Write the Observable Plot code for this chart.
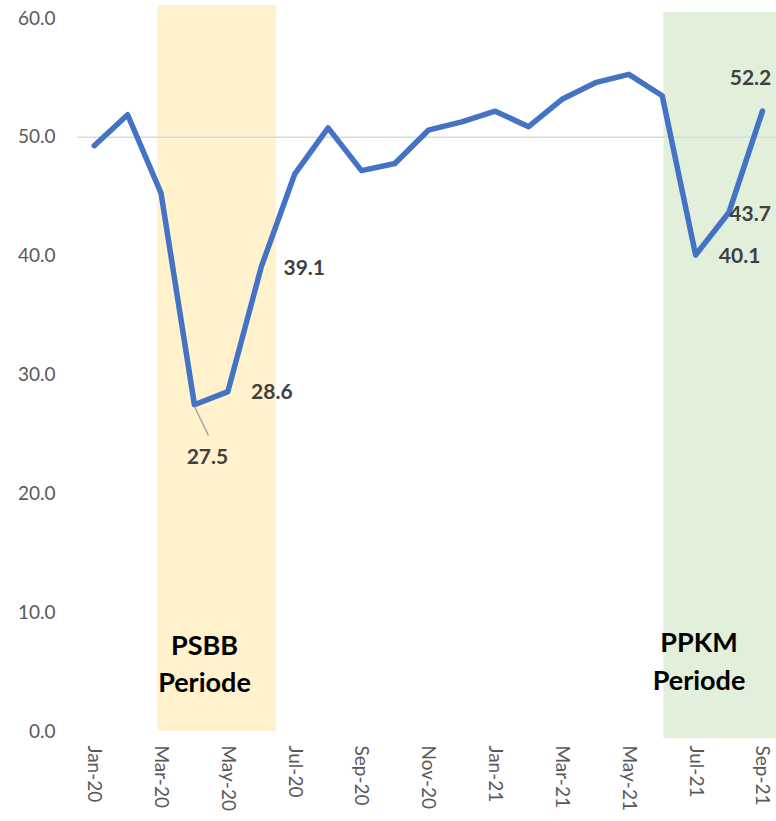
<!DOCTYPE html>
<html>
<head>
<meta charset="utf-8">
<script src="https://cdn.jsdelivr.net/npm/d3@7"></script>
<script src="https://cdn.jsdelivr.net/npm/@observablehq/plot@0.6"></script>
<style>
  html, body { margin: 0; padding: 0; background: #fff; }
  #chart { width: 776px; height: 821px; overflow: hidden; }
</style>
</head>
<body>
<div id="chart"></div>
<script>
const months = ["Jan-20","Feb-20","Mar-20","Apr-20","May-20","Jun-20","Jul-20","Aug-20","Sep-20","Oct-20","Nov-20","Dec-20",
                "Jan-21","Feb-21","Mar-21","Apr-21","May-21","Jun-21","Jul-21","Aug-21","Sep-21"];
const pmi = [49.3, 51.9, 45.3, 27.5, 28.6, 39.1, 46.9, 50.8, 47.2, 47.8, 50.6, 51.3,
             52.2, 50.9, 53.2, 54.6, 55.3, 53.5, 40.1, 43.7, 52.2];
const yTicks = [0, 10, 20, 30, 40, 50, 60];
const xTickIdx = [0, 2, 4, 6, 8, 10, 12, 14, 16, 18, 20];
const periods = [
  {name: "PSBB\nPeriode", start: 1.9, end: 5.45, lo: 0, hi: 61.1, color: "#FFF2CC", labelX: 3.3, labelY: 5.9},
  {name: "PPKM\nPeriode", start: 17.05, end: 20.6, lo: -0.6, hi: 60.5, color: "#E2EFDA", labelX: 18.1, labelY: 6.1}
];

const data = months.map((m, i) => ({i, month: m, value: pmi[i]}));
const pt = i => data[i];
const font = "Lato, 'Noto Sans', sans-serif";

const lab = (i, dx, dy) => Plot.text([pt(i)], {
  x: "i", y: "value", text: d => d.value.toFixed(1),
  dx, dy, fontSize: 21, fontWeight: "bold", fill: "#404040", fontFamily: font
});

const chart = Plot.plot({
  width: 776,
  height: 821,
  marginLeft: 77,
  marginRight: 0,
  marginTop: 18,
  marginBottom: 90,
  style: {fontFamily: font, background: "transparent", overflow: "visible"},
  x: {domain: [-0.5, 20.42], axis: null},
  y: {domain: [0, 60], axis: null},
  marks: [
    Plot.rect(periods, {x1: "start", x2: "end", y1: "lo", y2: "hi", fill: "color"}),
    Plot.ruleY([50], {stroke: "#d9d9d9", strokeWidth: 1.5}),
    Plot.axisY(yTicks, {
      tickSize: 0, tickPadding: 22, tickFormat: d3.format(".1f"),
      fontSize: 19, fill: "#595959", fontFamily: font
    }),
    Plot.axisX(xTickIdx, {
      tickSize: 0, tickPadding: 14, tickRotate: 90,
      tickFormat: i => months[i], fontSize: 19, fill: "#595959", fontFamily: font
    }),
    Plot.line(data, {x: "i", y: "value", stroke: "#4472C4", strokeWidth: 5.5, strokeLinejoin: "round", strokeLinecap: "round"}),
    Plot.link([pt(3)], {x1: "i", y1: d => d.value - 0.15, x2: d => d.i + 0.42, y2: d => d.value - 2.6, stroke: "#a6a6a6", strokeWidth: 1.5}),
    lab(3, 13, 53),
    lab(4, 44, 1),
    lab(5, 43, 1),
    lab(18, 44, 1),
    lab(19, 21, 2),
    lab(20, -12, -33),
    Plot.text(periods, {
      x: "labelX", y: "labelY", text: "name", fontSize: 27, fontWeight: "bold",
      fill: "#000", lineHeight: 1.4, fontFamily: font
    })
  ]
});
document.getElementById("chart").appendChild(chart);
</script>
</body>
</html>
